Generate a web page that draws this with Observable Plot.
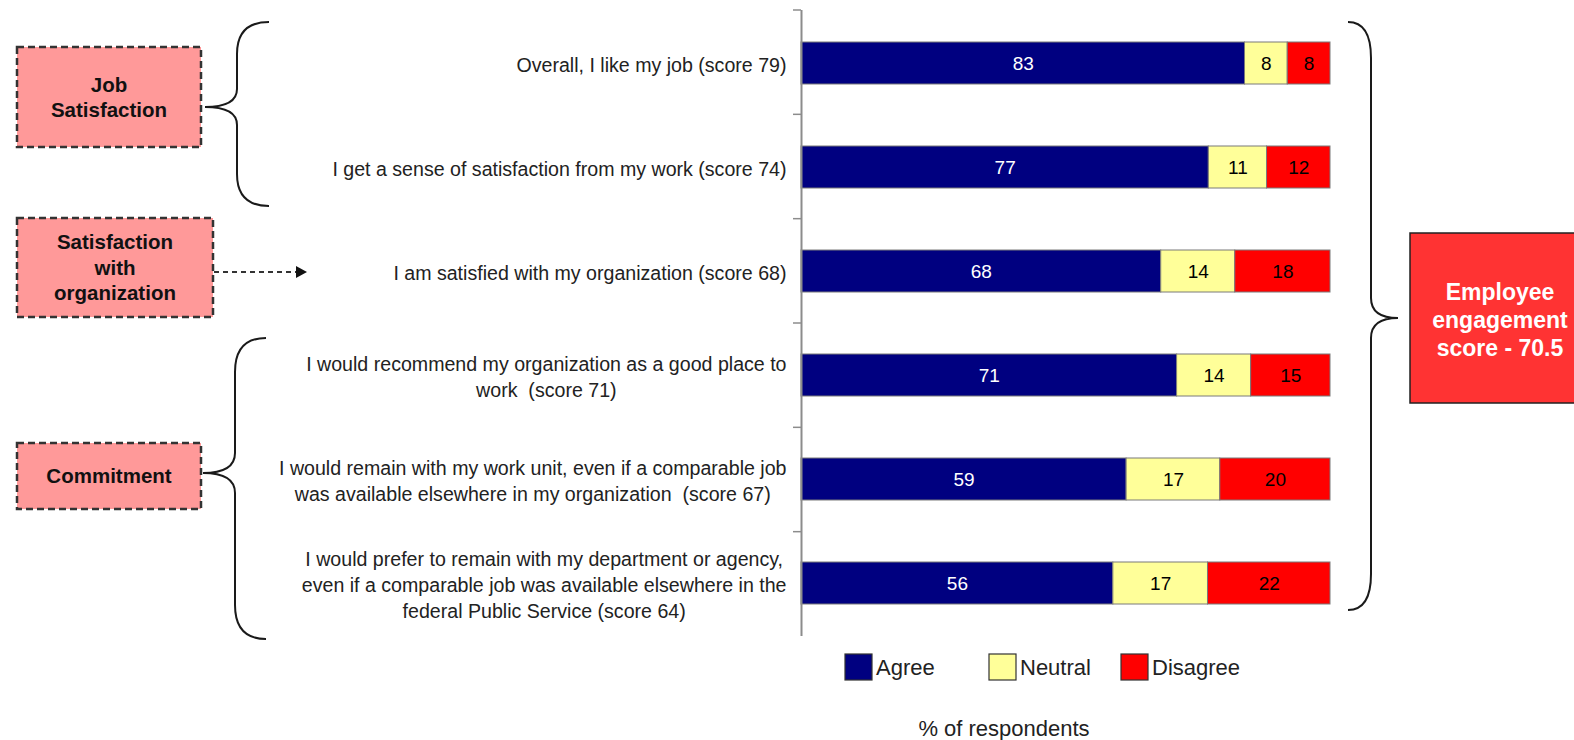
<!DOCTYPE html>
<html>
<head>
<meta charset="utf-8">
<script src="https://cdn.jsdelivr.net/npm/d3@7"></script>
<script src="https://cdn.jsdelivr.net/npm/@observablehq/plot@0.6"></script>
<style>
  html, body { margin: 0; padding: 0; background: #fff; }
  #chart svg { display: block; }
</style>
</head>
<body>
<div id="chart"></div>
<script>
// ---------- data ----------
const questions = [
  "Overall, I like my job (score 79)",
  "I get a sense of satisfaction from my work (score 74)",
  "I am satisfied with my organization (score 68)",
  "I would recommend my organization as a good place to\nwork  (score 71)",
  "I would remain with my work unit, even if a comparable job\nwas available elsewhere in my organization  (score 67)",
  "I would prefer to remain with my department or agency,\neven if a comparable job was available elsewhere in the\nfederal Public Service (score 64)"
];
const agree    = [83, 77, 68, 71, 59, 56];
const neutral  = [8, 11, 14, 14, 17, 17];
const disagree = [8, 12, 18, 15, 20, 22];
const responses = ["Agree", "Neutral", "Disagree"];
const groupLabels = [["Job", "Satisfaction"], ["Satisfaction", "with", "organization"], ["Commitment"]];
const engagementLabel = ["Employee", "engagement", "score - 70.5"];
const xLabel = "% of respondents";

// ---------- styles / layout ----------
const colors = ["#000080", "#FFFF99", "#FF0000"];
const W = 1574, H = 740, ML = 801, MR = 244, MT = 10, MB = 104;
const family = '"Liberation Sans", Arial, Helvetica, sans-serif';
const labelSize = 19.6;

const rows = [];
questions.forEach((q, i) => {
  [agree, neutral, disagree].forEach((arr, j) => rows.push({q, resp: responses[j], value: arr[i]}));
});

const ctx = document.createElement("canvas").getContext("2d");
ctx.font = `${labelSize}px ${family}`;
const widthOf = s => Math.max(...s.split("\n").map(l => ctx.measureText(l).width));

function brace(g, xEnd, xMid, xTip, yTop, yTip, yBot, r1, r2) {
  const p = `M${xEnd},${yTop} Q${xMid},${yTop} ${xMid},${yTop + r1} L${xMid},${yTip - r2} ` +
            `Q${xMid},${yTip} ${xTip},${yTip} Q${xMid},${yTip} ${xMid},${yTip + r2} ` +
            `L${xMid},${yBot - r1} Q${xMid},${yBot} ${xEnd},${yBot}`;
  g.append("path").attr("d", p).attr("fill", "none").attr("stroke", "#1a1a1a").attr("stroke-width", 2);
}

function groupBox(g, x, y, w, h, lines, lh) {
  g.append("rect").attr("x", x).attr("y", y).attr("width", w).attr("height", h)
    .attr("fill", "#FF9999").attr("stroke", "#333").attr("stroke-width", 2.5).attr("stroke-dasharray", "7,4");
  const t = g.append("text").attr("text-anchor", "middle").attr("font-weight", "bold")
    .attr("font-size", 20.5).attr("fill", "#111");
  const cy = y + h / 2 - (lines.length - 1) * lh / 2;
  lines.forEach((l, i) => t.append("tspan").attr("x", x + w / 2).attr("y", cy + i * lh).attr("dy", "0.35em").text(l));
}

function decorations(index, scales, values, dims) {
  const g = d3.create("svg:g").attr("font-family", family);
  const {marginTop, marginBottom, height} = dims;
  const step = (height - marginTop - marginBottom) / questions.length;
  const x0 = scales.x(0);
  // axis ticks at category boundaries
  for (let i = 0; i < questions.length; i++) {
    const yy = marginTop + i * step;
    g.append("line").attr("x1", x0 - 8).attr("x2", x0).attr("y1", yy).attr("y2", yy)
      .attr("stroke", "#8c8c8c").attr("stroke-width", 1.5);
  }
  // group boxes
  groupBox(g, 17, 47, 184, 100, groupLabels[0], 25);
  groupBox(g, 17, 218, 196, 99, groupLabels[1], 25.5);
  groupBox(g, 17, 443, 184, 66, groupLabels[2], 25);
  // left braces
  brace(g, 269, 237, 205, 22, 107, 206, 32, 18);
  brace(g, 266, 235, 203, 338, 473, 639, 34, 20);
  // dashed arrow
  g.append("line").attr("x1", 214).attr("x2", 297).attr("y1", 272).attr("y2", 272)
    .attr("stroke", "#333").attr("stroke-width", 2).attr("stroke-dasharray", "5,4");
  g.append("path").attr("d", "M296,266 L307,272 L296,278 Z").attr("fill", "#111");
  // right brace
  brace(g, 1348, 1371, 1398, 22, 318, 610, 36, 20);
  // engagement box
  g.append("rect").attr("x", 1410).attr("y", 233).attr("width", 200).attr("height", 170)
    .attr("fill", "#FF3333").attr("stroke", "#222").attr("stroke-width", 1.5);
  const t = g.append("text").attr("text-anchor", "middle").attr("font-weight", "bold")
    .attr("font-size", 23).attr("fill", "#fff");
  engagementLabel.forEach((l, i) => t.append("tspan").attr("x", 1500).attr("y", 292 + i * 28).attr("dy", "0.35em").text(l));
  // legend
  const legendX = [845, 989, 1121];
  responses.forEach((r, i) => {
    g.append("rect").attr("x", legendX[i]).attr("y", 654).attr("width", 27).attr("height", 26)
      .attr("fill", colors[i]).attr("stroke", "#333").attr("stroke-width", 1.2);
    g.append("text").attr("x", legendX[i] + 31).attr("y", 667).attr("dy", "0.35em")
      .attr("text-anchor", "start").attr("font-size", 22).attr("fill", "#222").text(r);
  });
  // x label
  g.append("text").attr("x", 1004).attr("y", 736).attr("text-anchor", "middle")
    .attr("font-size", 22).attr("fill", "#222").text(xLabel);
  return g.node();
}

const stackOpts = {x: "value", y: "q", z: "resp", offset: "normalize"};

const chart = Plot.plot({
  width: W, height: H,
  marginLeft: ML, marginRight: MR, marginTop: MT, marginBottom: MB,
  style: {fontFamily: family, background: "#fff"},
  x: {domain: [0, 1], axis: null},
  y: {domain: questions, paddingInner: 0.6, paddingOuter: 0.3, axis: null},
  color: {domain: responses, range: colors},
  marks: [
    Plot.barX(rows, Plot.stackX({...stackOpts, fill: "resp", stroke: "#7a7a7a", strokeWidth: 1})),
    Plot.text(rows, Plot.stackX({...stackOpts, text: d => d.resp === "Agree" ? String(d.value) : null,
      fill: "white", fontSize: 19})),
    Plot.text(rows, Plot.stackX({...stackOpts, text: d => d.resp !== "Agree" ? String(d.value) : null,
      fill: "black", fontSize: 19})),
    Plot.ruleX([0], {stroke: "#8c8c8c", strokeWidth: 2}),
    ...questions.map(q => Plot.text([q], {
      x: 0, y: d => d, text: d => d, textAnchor: "middle", lineAnchor: "middle",
      dx: -(15 + widthOf(q) / 2), lineHeight: 1.35, fontSize: labelSize, fill: "#222"
    })),
    decorations
  ]
});
document.getElementById("chart").append(chart);
</script>
</body>
</html>
